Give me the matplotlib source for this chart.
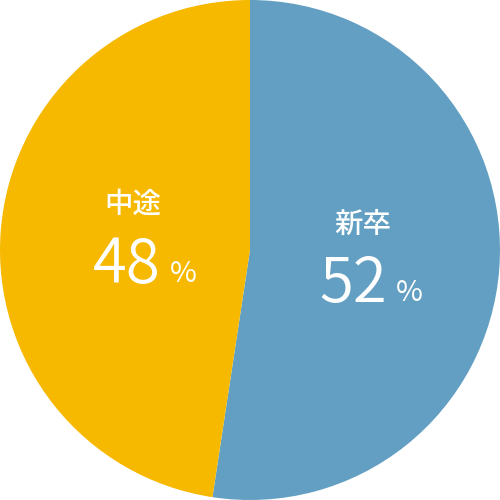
import matplotlib.pyplot as plt

labels = ['新卒', '中途']
values = [52.4, 47.6]
shown = ['52', '48']
colors = ['#639fc2', '#f6b900']
# label anchors in pixels from top-left: name centre, number right/baseline
name_px = [(363, 224), (133, 204)]
num_px = [(387, 302), (161, 283)]

plt.rcParams['font.family'] = ['Noto Sans CJK JP', 'DejaVu Sans']

fig = plt.figure(figsize=(5, 5), dpi=100)
ax = fig.add_axes([0, 0, 1, 1])
ax.pie(values, colors=colors, startangle=90, counterclock=False, radius=1.0,
       wedgeprops=dict(linewidth=0))
ax.set_xlim(-1, 1)
ax.set_ylim(-1, 1)
ax.set_aspect('equal')
ax.axis('off')


def px(x, y):
    return x / 500, 1 - y / 500


for lab, s, (nx, ny), (mx, my) in zip(labels, shown, name_px, num_px):
    ax.text(*px(nx, ny), lab, transform=ax.transAxes, ha='center', va='center',
            color='white', fontsize=20.5, fontweight='medium')
    ax.text(*px(mx, my), s, transform=ax.transAxes, ha='right', va='baseline',
            color='white', fontsize=44.5, fontweight=350)
    ax.text(*px(mx + 9, my - 1), '%', transform=ax.transAxes, ha='left', va='baseline',
            color='white', fontsize=21, fontweight='regular')

fig.savefig('out.png', dpi=100)
